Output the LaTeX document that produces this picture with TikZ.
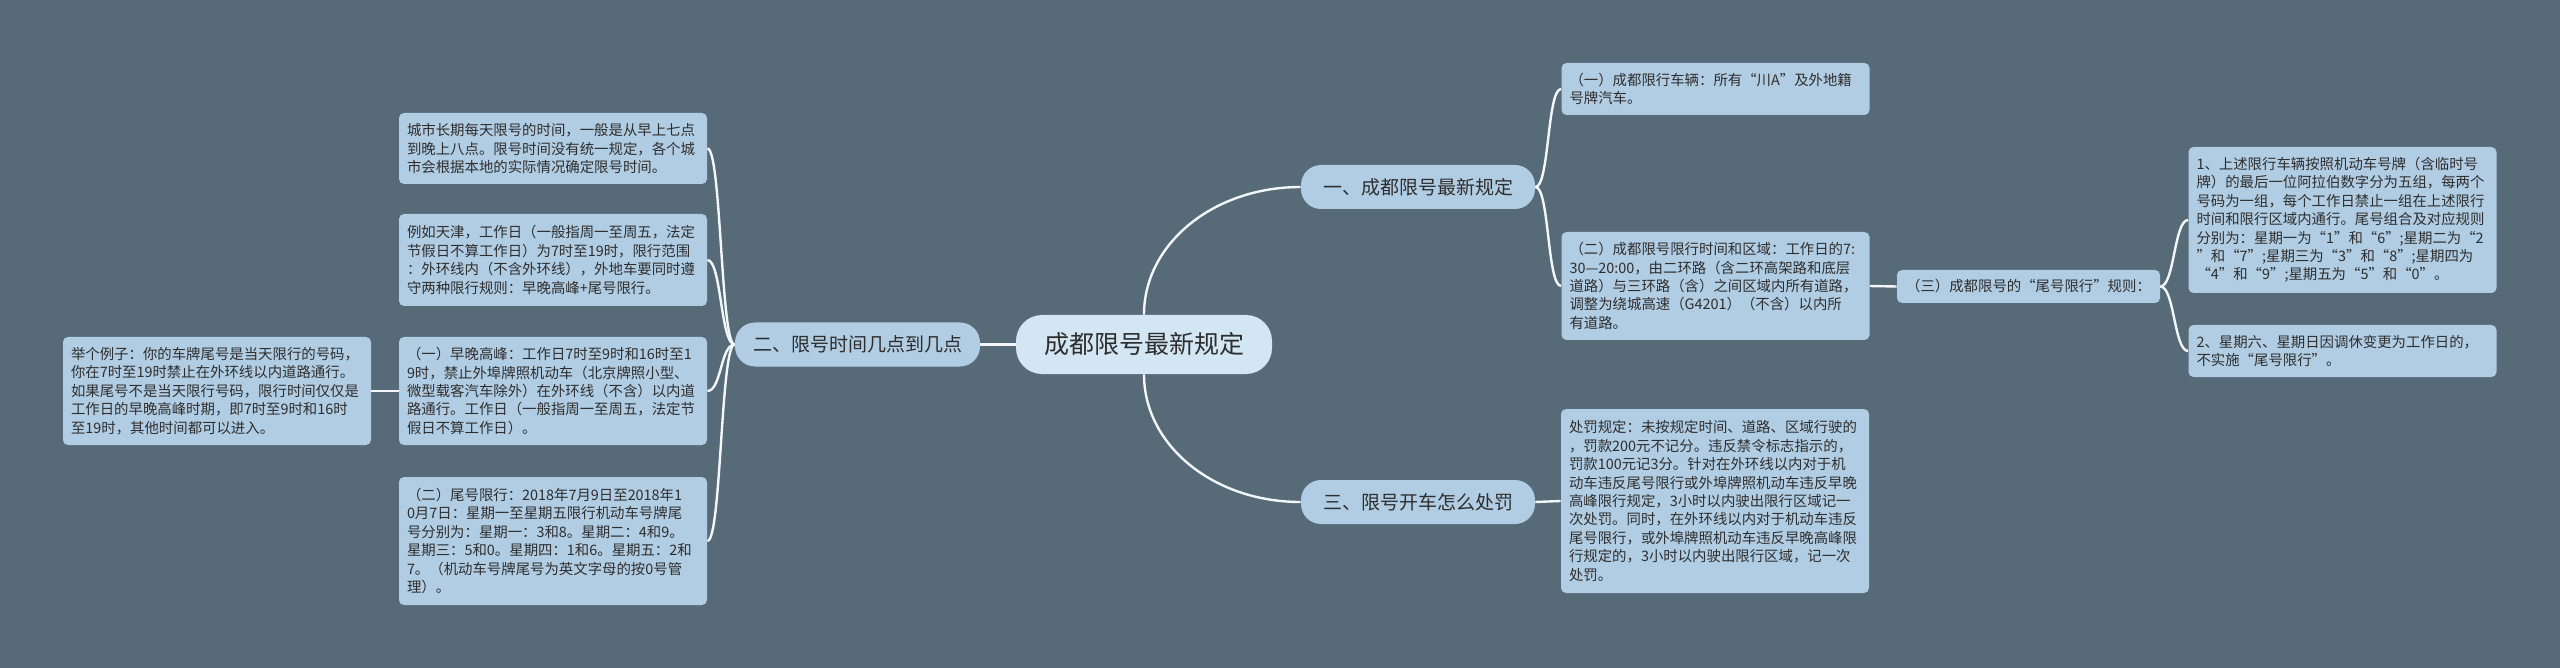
\documentclass[tikz,border=0pt]{standalone}
\usepackage{fontspec}
\setmainfont{Noto Sans CJK SC}
\definecolor{bgc}{HTML}{566A78}
\definecolor{leafc}{HTML}{B1CDE3}
\definecolor{rootc}{HTML}{D2E6F3}
\definecolor{txt}{HTML}{2E2E2E}
\definecolor{linec}{HTML}{F2F6F9}
\tikzset{
 leafbox/.style={fill=leafc, rounded corners=2.5pt, text width=146pt, inner xsep=4pt, inner ysep=0pt, align=left, font=\fontsize{7.2pt}{9.2pt}\selectfont, text=txt},
 tagbox/.style={fill=leafc, rounded corners=2.5pt, inner sep=0pt, align=center, font=\fontsize{7.2pt}{9.2pt}\selectfont, text=txt},
 branchbox/.style={fill=leafc, rounded corners=10pt, minimum width=117pt, minimum height=22pt, inner sep=0pt, font=\fontsize{9.5pt}{11pt}\selectfont, text=txt},
 mainbox/.style={fill=rootc, rounded corners=13pt, minimum width=128pt, minimum height=29.5pt, inner sep=0pt, font=\fontsize{12.5pt}{14pt}\selectfont, text=txt},
 linkline/.style={draw=linec, line width=1.2pt},
}
\begin{document}
\begin{tikzpicture}[x=0.5pt,y=-0.5pt]
\fill[bgc] (0,0) rectangle (2560,668);
\useasboundingbox (0,0) rectangle (2560,668);

\node[mainbox] (c) at (1144,344.5) {成都限号最新规定};
\node[branchbox] (b1) at (1418,187) {一、成都限号最新规定};
\node[branchbox, minimum width=122.5pt] (b2) at (857.5,344.5) {二、限号时间几点到几点};
\node[branchbox] (b3) at (1418,502) {三、限号开车怎么处罚};

\node[leafbox, minimum height=35.5pt] (l1) at (553,148.5) {城市长期每天限号的时间，一般是从早上七点\\到晚上八点。限号时间没有统一规定，各个城\\市会根据本地的实际情况确定限号时间。};
\node[leafbox, minimum height=46pt] (l2) at (553,260) {例如天津，工作日（一般指周一至周五，法定\\节假日不算工作日）为7时至19时，限行范围\\：外环线内（不含外环线），外地车要同时遵\\守两种限行规则：早晚高峰+尾号限行。};
\node[leafbox, minimum height=54pt] (l3) at (553,391) {（一）早晚高峰：工作日7时至9时和16时至1\\9时，禁止外埠牌照机动车（北京牌照小型、\\微型载客汽车除外）在外环线（不含）以内道\\路通行。工作日（一般指周一至周五，法定节\\假日不算工作日）。};
\node[leafbox, minimum height=64pt] (l4) at (553,541) {（二）尾号限行：2018年7月9日至2018年1\\0月7日：星期一至星期五限行机动车号牌尾\\号分别为：星期一：3和8。星期二：4和9。\\星期三：5和0。星期四：1和6。星期五：2和\\7。（机动车号牌尾号为英文字母的按0号管\\理）。};
\node[leafbox, minimum height=54pt] (l3c) at (217,391) {举个例子：你的车牌尾号是当天限行的号码，\\你在7时至19时禁止在外环线以内道路通行。\\如果尾号不是当天限行号码，限行时间仅仅是\\工作日的早晚高峰时期，即7时至9时和16时\\至19时，其他时间都可以进入。};

\node[leafbox, minimum height=26pt] (r1) at (1715.5,89) {（一）成都限行车辆：所有“川A”及外地籍\\号牌汽车。};
\node[leafbox, minimum height=54pt] (r2) at (1715.5,286) {（二）成都限号限行时间和区域：工作日的7:\\30—20:00，由二环路（含二环高架路和底层\\道路）与三环路（含）之间区域内所有道路，\\调整为绕城高速（G4201）（不含）以内所\\有道路。};
\node[leafbox, minimum height=92pt] (r3) at (1715,501) {处罚规定：未按规定时间、道路、区域行驶的\\，罚款200元不记分。违反禁令标志指示的，\\罚款100元记3分。针对在外环线以内对于机\\动车违反尾号限行或外埠牌照机动车违反早晚\\高峰限行规定，3小时以内驶出限行区域记一\\次处罚。同时，在外环线以内对于机动车违反\\尾号限行，或外埠牌照机动车违反早晚高峰限\\行规定的，3小时以内驶出限行区域，记一次\\处罚。};
\node[tagbox, minimum width=131.5pt, minimum height=16.5pt] (t3) at (2028.5,286.5) {（三）成都限号的“尾号限行”规则：};
\node[leafbox, minimum height=73pt] (rr1) at (2342.5,220) {1、上述限行车辆按照机动车号牌（含临时号\\牌）的最后一位阿拉伯数字分为五组，每两个\\号码为一组，每个工作日禁止一组在上述限行\\时间和限行区域内通行。尾号组合及对应规则\\分别为：星期一为“1”和“6”;星期二为“2\\”和“7”;星期三为“3”和“8”;星期四为\\“4”和“9”;星期五为“5”和“0”。};
\node[leafbox, minimum height=26pt] (rr2) at (2342.5,351) {2、星期六、星期日因调休变更为工作日的，\\不实施“尾号限行”。};

\draw[linkline] (c.west) -- (b2.east);
\draw[linkline] (c.north) .. controls +(0,-71) and +(-87,0) .. (b1.west);
\draw[linkline] (c.south) .. controls +(0,71) and +(-87,0) .. (b3.west);
\foreach \n in {l1,l2,l3,l4}
  \draw[linkline] (b2.west) .. controls +(-14,0) and +(14,0) .. (\n.east);
\draw[linkline] (l3.west) -- (l3c.east);
\foreach \n in {r1,r2}
  \draw[linkline] (b1.east) .. controls +(14,0) and +(-14,0) .. (\n.west);
\draw[linkline] (b3.east) -- (r3.west);
\draw[linkline] (r2.east) -- (t3.west);
\foreach \n in {rr1,rr2}
  \draw[linkline] (t3.east) .. controls +(14,0) and +(-14,0) .. (\n.west);
\end{tikzpicture}
\end{document}
